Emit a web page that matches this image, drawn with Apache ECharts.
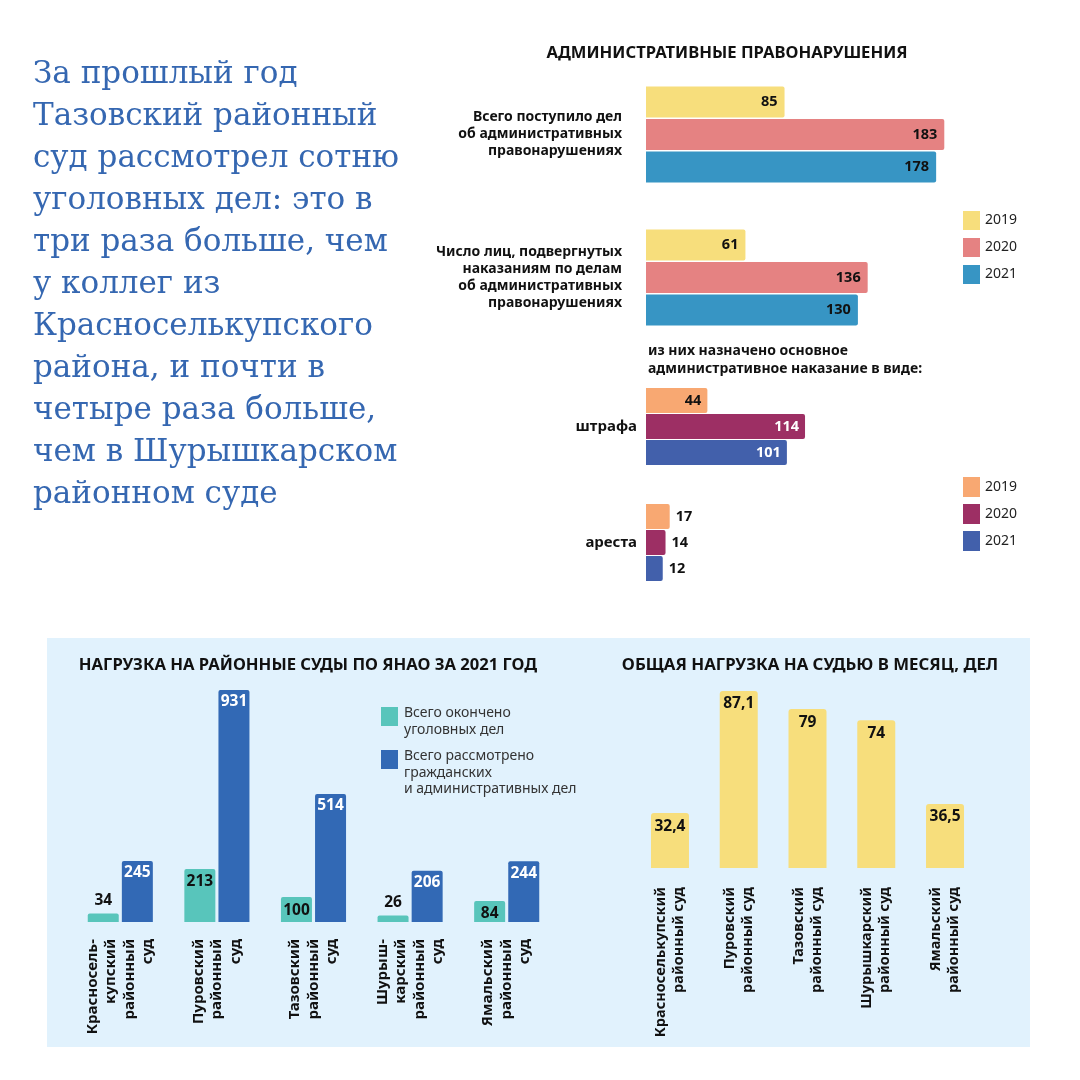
<!DOCTYPE html>
<html><head><meta charset="utf-8">
<script src="https://cdn.jsdelivr.net/npm/echarts@6/dist/echarts.min.js"></script>
<style>html,body{margin:0;padding:0;background:#fff}#c{width:1080px;height:1080px}</style>
</head><body><div id="c"></div>
<script>
// ---- data ----
const leftText = 'За прошлый год\nТазовский районный\nсуд рассмотрел сотню\nуголовных дел: это в\nтри раза больше, чем\nу коллег из\nКрасноселькупского\nрайона, и почти в\nчетыре раза больше,\nчем в Шурышкарском\nрайонном суде';
const admTitle = 'АДМИНИСТРАТИВНЫЕ ПРАВОНАРУШЕНИЯ';
const admCategories = ['Всего поступило дел\nоб административных\nправонарушениях', 'Число лиц, подвергнутых\nнаказаниям по делам\nоб административных\nправонарушениях'];
const years = ['2019', '2020', '2021'];
const adm2019 = [85, 61];
const adm2020 = [183, 136];
const adm2021 = [178, 130];
const penSubtitle = 'из них назначено основное\nадминистративное наказание в виде:';
const penCategories = ['штрафа', 'ареста'];
const pen2019 = [44, 17];
const pen2020 = [114, 14];
const pen2021 = [101, 12];
const loadTitle = 'НАГРУЗКА НА РАЙОННЫЕ СУДЫ ПО ЯНАО ЗА 2021 ГОД';
const courtsShort = ['Красносель-\nкупский\nрайонный\nсуд', 'Пуровский\nрайонный\nсуд', 'Тазовский\nрайонный\nсуд', 'Шурыш-\nкарский\nрайонный\nсуд', 'Ямальский\nрайонный\nсуд'];
const criminalName = 'Всего окончено\nуголовных дел';
const civilName = 'Всего рассмотрено\nгражданских\nи административных дел';
const criminalDone = [34, 213, 100, 26, 84];
const civilAdmin = [245, 931, 514, 206, 244];
const judgeTitle = 'ОБЩАЯ НАГРУЗКА НА СУДЬЮ В МЕСЯЦ, ДЕЛ';
const courtsFull = ['Красноселькупский\nрайонный суд', 'Пуровский\nрайонный суд', 'Тазовский\nрайонный суд', 'Шурышкарский\nрайонный суд', 'Ямальский\nрайонный суд'];
const loadPerJudge = [32.4, 87.1, 79, 74, 36.5];

// ---- styles ----
const F = '"Noto Sans", "Open Sans", sans-serif';
const admColors = ['#f7de7c', '#e58282', '#3795c4'];
const penColors = ['#f8a872', '#9d2f64', '#4260ab'];
const tealC = '#58c5bb', blueC = '#3269b5', yellowC = '#f7de7c';
const hidden = { axisLine: { show: false }, axisTick: { show: false }, splitLine: { show: false } };

const chart = echarts.init(document.getElementById('c'), null, { renderer: 'canvas' });

const admSeries = [adm2019, adm2020, adm2021].map((arr, i) => ({
  name: 'adm-' + years[i], type: 'bar', xAxisIndex: 0, yAxisIndex: 0,
  data: arr, barWidth: 31, barGap: '5%',
  itemStyle: { color: admColors[i], borderRadius: [0, 2, 2, 0] },
  label: { show: true, position: 'insideRight', distance: 7, color: '#111', fontWeight: 'bold', fontSize: 14.5, fontFamily: F }
}));
const penSeries = [pen2019, pen2020, pen2021].map((arr, i) => ({
  name: 'pen-' + years[i], type: 'bar', xAxisIndex: 1, yAxisIndex: 1,
  data: arr.map(v => ({ value: v, label: v > 30 ? { position: 'insideRight', color: i === 0 ? '#111' : '#fff' } : { position: 'right', color: '#111' } })),
  barWidth: 25, barGap: '4%',
  itemStyle: { color: penColors[i], borderRadius: [0, 2, 2, 0] },
  label: { show: true, distance: 6, fontWeight: 'bold', fontSize: 14.5, fontFamily: F }
}));

const option = {
  animation: false,
  backgroundColor: '#fff',
  textStyle: { fontFamily: F },
  graphic: [
    { type: 'rect', z: -10, shape: { x: 47, y: 638, width: 983, height: 409 }, style: { fill: '#e1f2fd' } },
    { type: 'text', x: 33, y: 54, style: { text: leftText, font: '31px "DejaVu Serif", serif', fill: '#3567b1', lineHeight: 42, verticalAlign: 'top' } },
    { type: 'text', x: 727, y: 53, style: { text: admTitle, font: 'bold 16.6px ' + F, fill: '#111', align: 'center', verticalAlign: 'middle' } },
    { type: 'text', x: 648, y: 342, style: { text: penSubtitle, font: 'bold 14px ' + F, fill: '#111', lineHeight: 18, verticalAlign: 'top' } },
    { type: 'text', x: 308, y: 665, style: { text: loadTitle, font: 'bold 16.6px ' + F, fill: '#111', align: 'center', verticalAlign: 'middle' } },
    { type: 'text', x: 810, y: 665, style: { text: judgeTitle, font: 'bold 16.8px ' + F, fill: '#111', align: 'center', verticalAlign: 'middle' } },
    { type: 'rect', shape: { x: 381, y: 707, width: 17, height: 19 }, style: { fill: tealC } },
    { type: 'text', x: 404, y: 705, style: { text: criminalName, font: '14px ' + F, fill: '#333', lineHeight: 16.5, verticalAlign: 'top' } },
    { type: 'rect', shape: { x: 381, y: 750, width: 17, height: 19 }, style: { fill: blueC } },
    { type: 'text', x: 404, y: 748, style: { text: civilName, font: '14px ' + F, fill: '#333', lineHeight: 16.5, verticalAlign: 'top' } }
  ],
  legend: [
    { data: years.map(y => 'adm-' + y), orient: 'vertical', left: 958, top: 206, itemWidth: 17, itemHeight: 19, itemGap: 8, icon: 'rect', selectedMode: false, formatter: n => n.slice(4), textStyle: { fontSize: 14, color: '#222', fontFamily: F } },
    { data: years.map(y => 'pen-' + y), orient: 'vertical', left: 958, top: 472, itemWidth: 17, itemHeight: 20, itemGap: 7, icon: 'rect', selectedMode: false, formatter: n => n.slice(4), textStyle: { fontSize: 14, color: '#222', fontFamily: F } }
  ],
  grid: [
    { left: 646, top: 63, width: 326, height: 286 },
    { left: 646, top: 368.5, width: 279, height: 232 },
    { left: 72, top: 690, width: 483, height: 232 },
    { left: 635.6, top: 691, width: 343.8, height: 177 }
  ],
  xAxis: [
    { gridIndex: 0, type: 'value', min: 0, max: 200, show: false },
    { gridIndex: 1, type: 'value', min: 0, max: 200, show: false },
    { gridIndex: 2, type: 'category', data: courtsShort, ...hidden,
      axisLabel: { interval: 0, rotate: 90, margin: 17, fontWeight: 'bold', fontSize: 15, lineHeight: 18.5, color: '#111', fontFamily: F } },
    { gridIndex: 3, type: 'category', data: courtsFull, ...hidden,
      axisLabel: { interval: 0, rotate: 90, margin: 19, fontWeight: 'bold', fontSize: 14.5, lineHeight: 18, color: '#111', fontFamily: F } }
  ],
  yAxis: [
    { gridIndex: 0, type: 'category', data: admCategories, inverse: true, ...hidden,
      axisLabel: { margin: 24, fontWeight: 'bold', fontSize: 14, lineHeight: 17, color: '#111', align: 'right', fontFamily: F } },
    { gridIndex: 1, type: 'category', data: penCategories, inverse: true, ...hidden,
      axisLabel: { margin: 9, fontWeight: 'bold', fontSize: 15, color: '#111', fontFamily: F } },
    { gridIndex: 2, type: 'value', min: 0, max: 931, show: false },
    { gridIndex: 3, type: 'value', min: 7.8, max: 87.1, show: false }
  ],
  series: [
    ...admSeries,
    ...penSeries,
    { name: criminalName, type: 'bar', xAxisIndex: 2, yAxisIndex: 2, barWidth: 31, barGap: '10%',
      data: criminalDone.map(v => ({ value: v, label: { position: v > 50 ? 'insideTop' : 'top' } })),
      itemStyle: { color: tealC, borderRadius: [2, 2, 0, 0] },
      label: { show: true, distance: 5, color: '#111', fontWeight: 'bold', fontSize: 15.5, fontFamily: F } },
    { name: civilName, type: 'bar', xAxisIndex: 2, yAxisIndex: 2, barWidth: 31, barGap: '10%',
      data: civilAdmin,
      itemStyle: { color: blueC, borderRadius: [2, 2, 0, 0] },
      label: { show: true, position: 'insideTop', distance: 4, color: '#fff', fontWeight: 'bold', fontSize: 15.5, fontFamily: F } },
    { name: 'load', type: 'bar', xAxisIndex: 3, yAxisIndex: 3, barWidth: 38,
      data: loadPerJudge,
      itemStyle: { color: yellowC, borderRadius: [3, 3, 0, 0] },
      label: { show: true, position: 'insideTop', distance: 5, color: '#111', fontWeight: 'bold', fontSize: 15.5, fontFamily: F,
        formatter: p => String(p.value).replace('.', ',') } }
  ]
};
chart.setOption(option);
</script></body></html>
